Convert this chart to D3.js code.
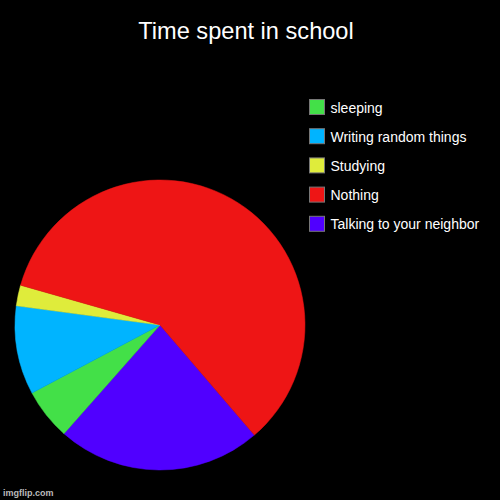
<!DOCTYPE html>
<html>
<head>
<meta charset="utf-8">
<script src="https://cdn.jsdelivr.net/npm/d3@7"></script>
<style>
html,body{margin:0;padding:0;background:#000;}
svg{display:block;}
</style>
</head>
<body>
<svg id="chart" width="500" height="500"></svg>
<script>
const title = "Time spent in school";
const categories = ["Talking to your neighbor", "Nothing", "Studying", "Writing random things", "sleeping"];
const values = [22.8, 59.3, 2.3, 9.9, 5.7];
const colors = ["#5000ff", "#ee1515", "#dfec3b", "#00b4ff", "#43e048"];
// order in which slices are drawn clockwise, starting at the Nothing/Talking boundary
const sliceOrder = [0, 4, 3, 2, 1];
const legendOrder = [4, 3, 2, 1, 0];

const svg = d3.select("#chart");
svg.append("rect").attr("width", 500).attr("height", 500).attr("fill", "#000");

svg.append("text")
  .attr("x", 246).attr("y", 39)
  .attr("text-anchor", "middle")
  .attr("fill", "#fff")
  .attr("font-family", "Liberation Sans, Arial, sans-serif")
  .attr("font-size", 23.6)
  .text(title);

const cx = 160, cy = 325, r = 145;
const start = 139.4 * Math.PI / 180;
const pie = d3.pie().sort(null).value(i => values[i])
  .startAngle(start).endAngle(start + 2 * Math.PI);
const arc = d3.arc().innerRadius(0).outerRadius(r);

svg.append("g").attr("transform", `translate(${cx},${cy})`)
  .selectAll("path")
  .data(pie(sliceOrder))
  .join("path")
  .attr("d", arc)
  .attr("fill", d => colors[d.data])
  .attr("stroke", d => colors[d.data])
  .attr("stroke-width", 0.5);

const leg = svg.append("g").attr("transform", "translate(309,99)");
const items = leg.selectAll("g").data(legendOrder).join("g")
  .attr("transform", (d, i) => `translate(0,${i * 29.2})`);
items.append("rect")
  .attr("x", 0.5).attr("y", 0.5).attr("width", 15).attr("height", 15)
  .attr("fill", d => colors[d])
  .attr("stroke", "#777").attr("stroke-width", 1);
items.append("text")
  .attr("x", 21.5).attr("y", 13.5)
  .attr("fill", "#fff")
  .attr("font-family", "Liberation Sans, Arial, sans-serif")
  .attr("font-size", 14)
  .text(d => categories[d]);

svg.append("text")
  .attr("x", 3).attr("y", 496)
  .attr("fill", "#bbb")
  .attr("font-family", "Liberation Sans, Arial, sans-serif")
  .attr("font-weight", "bold")
  .attr("font-size", 9)
  .text("imgflip.com");
</script>
</body>
</html>
